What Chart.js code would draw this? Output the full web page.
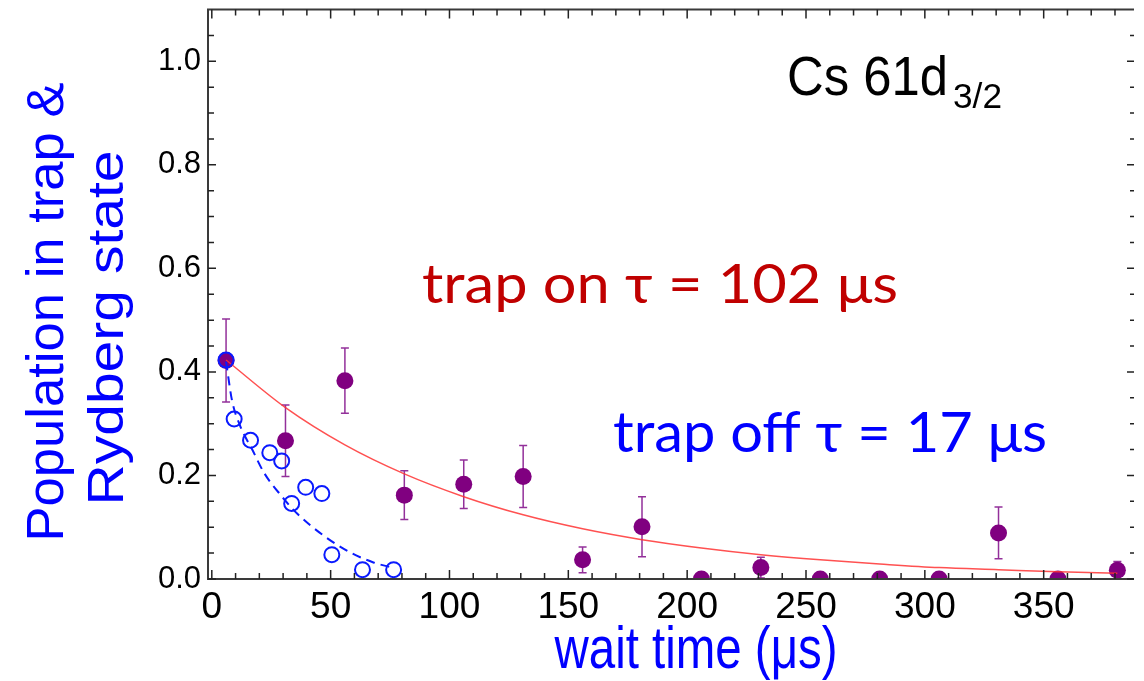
<!DOCTYPE html>
<html>
<head>
<meta charset="utf-8">
<script src="https://cdn.jsdelivr.net/npm/chart.js@4.4.1/dist/chart.umd.min.js"></script>
<style>
  html, body { margin: 0; padding: 0; background: #fff; }
  #wrap { width: 1144px; height: 681px; }
</style>
</head>
<body>
<div id="wrap"><canvas id="chart1"></canvas></div>
<script>
// trap on: filled purple points with error bars (wait time in us)
const trapOnTime = [6, 31, 56, 81, 106, 131, 156, 181, 206, 231, 256, 281, 306, 331, 356, 381];
const trapOnPop  = [0.422, 0.267, 0.383, 0.162, 0.183, 0.198, 0.037, 0.101, 0.0, 0.022, 0.0, 0.0, 0.0, 0.089, 0.0, 0.017];
const trapOnErr  = [0.080, 0.069, 0.063, 0.047, 0.047, 0.060, 0.025, 0.058, 0.0, 0.020, 0.0, 0.0, 0.0, 0.050, 0.0, 0.017];

// trap off: open blue circles
const trapOffTime = [6, 9.4, 16.3, 24.4, 29.4, 33.6, 39.5, 46.3, 50.5, 63.4, 76.5];
const trapOffPop  = [0.423, 0.309, 0.268, 0.244, 0.228, 0.146, 0.177, 0.165, 0.047, 0.018, 0.018];

// fit curves
const fitOnTime = [6, 31, 56, 81, 106, 131, 156, 181, 206, 231, 256, 281, 306, 331, 356, 381];
const fitOnPop  = [0.423, 0.331, 0.259, 0.203, 0.159, 0.124, 0.097, 0.076, 0.060, 0.047, 0.037, 0.029, 0.022, 0.018, 0.014, 0.011];
const fitOffTime = [6, 8.5, 12, 17, 22, 29, 36, 47, 58, 68, 77];
const fitOffPop  = [0.42, 0.345, 0.295, 0.25, 0.205, 0.162, 0.126, 0.084, 0.052, 0.032, 0.021];

// ticks
const xTickLabels = [0, 50, 100, 150, 200, 250, 300, 350];
const xMinorTicks = [10, 20, 30, 40, 60, 70, 80, 90, 110, 120, 130, 140, 160, 170, 180, 190, 210, 220, 230, 240,
                     260, 270, 280, 290, 310, 320, 330, 340, 360, 370, 380];
const yTickLabels = [0.0, 0.2, 0.4, 0.6, 0.8, 1.0];
const yMinorTicks = [0.05, 0.1, 0.15, 0.25, 0.3, 0.35, 0.45, 0.5, 0.55, 0.65, 0.7, 0.75, 0.85, 0.9, 0.95, 1.05];

const sans = "'Liberation Sans', Arial, sans-serif";
const calibriLike = "Lato, 'Open Sans', sans-serif";

const pts = (xs, ys) => xs.map((x, i) => ({ x: x, y: ys[i] }));

// draws text squeezed to a given width
function fitText(ctx, str, x, y, width, font, color, align, rotate) {
  ctx.save();
  ctx.font = font;
  const w = ctx.measureText(str).width;
  ctx.translate(x, y);
  if (rotate) ctx.rotate(-Math.PI / 2);
  ctx.scale(width / w, 1);
  ctx.fillStyle = color;
  ctx.textAlign = align || 'left';
  ctx.textBaseline = 'alphabetic';
  ctx.fillText(str, 0, 0);
  ctx.restore();
}

const errorBars = {
  id: 'errorBars',
  beforeDatasetsDraw(chart) {
    const ctx = chart.ctx, xs = chart.scales.x, ys = chart.scales.y;
    ctx.save();
    ctx.strokeStyle = '#93309a';
    ctx.lineWidth = 1.5;
    trapOnTime.forEach((t, i) => {
      if (!trapOnErr[i]) return;
      const x = xs.getPixelForValue(t);
      const y1 = ys.getPixelForValue(trapOnPop[i] + trapOnErr[i]);
      const y2 = ys.getPixelForValue(trapOnPop[i] - trapOnErr[i]);
      ctx.beginPath();
      ctx.moveTo(x, y1); ctx.lineTo(x, y2);
      ctx.moveTo(x - 4, y1); ctx.lineTo(x + 4, y1);
      ctx.moveTo(x - 4, y2); ctx.lineTo(x + 4, y2);
      ctx.stroke();
    });
    ctx.restore();
  }
};

const frame = {
  id: 'frame',
  afterDraw(chart) {
    const ctx = chart.ctx, a = chart.chartArea, xs = chart.scales.x, ys = chart.scales.y;
    ctx.save();
    ctx.strokeStyle = '#3a3a3a';
    ctx.lineWidth = 2;
    ctx.beginPath();
    ctx.moveTo(a.right, a.top); ctx.lineTo(a.left, a.top);
    ctx.lineTo(a.left, a.bottom); ctx.lineTo(a.right, a.bottom);
    ctx.stroke();

    ctx.lineWidth = 1.5;
    ctx.strokeStyle = '#222';
    ctx.beginPath();
    const xt = (v, len) => {
      const x = xs.getPixelForValue(v);
      ctx.moveTo(x, a.bottom); ctx.lineTo(x, a.bottom - len);
      ctx.moveTo(x, a.top); ctx.lineTo(x, a.top + len);
    };
    const yt = (v, len, rlen) => {
      const y = ys.getPixelForValue(v);
      ctx.moveTo(a.left, y); ctx.lineTo(a.left + len, y);
      ctx.moveTo(a.right, y); ctx.lineTo(a.right - rlen, y);
    };
    xTickLabels.forEach(v => xt(v, 9));
    xMinorTicks.forEach(v => xt(v, 6));
    yTickLabels.forEach(v => yt(v, 8, 7));
    yMinorTicks.forEach(v => yt(v, 6, 4));
    ctx.stroke();
    ctx.restore();

    // labels and notes
    fitText(ctx, 'Population in trap &', 63, 312, 459, '52px ' + sans, '#0000ff', 'center', true);
    fitText(ctx, 'Rydberg state', 123, 328, 355, '50px ' + sans, '#0000ff', 'center', true);
    fitText(ctx, 'wait time (\u03bcs)', 696, 668, 283, '60px ' + sans, '#0000ff', 'center');
    fitText(ctx, 'Cs 61d', 787, 95, 161, '56px ' + sans, '#000', 'left');
    fitText(ctx, '3/2', 953, 108, 49, '35px ' + sans, '#000', 'left');
    fitText(ctx, 'trap on \u03c4 = 102 \u03bcs', 422, 303, 476, '54px ' + calibriLike, '#c00000', 'left');
    fitText(ctx, 'trap off \u03c4 = 17 \u03bcs', 613, 452, 434, '56px ' + calibriLike, '#0000ff', 'left');
  }
};

const ctx = document.getElementById('chart1');
new Chart(ctx, {
  type: 'scatter',
  data: {
    datasets: [{
      data: pts(trapOnTime, trapOnPop),
      backgroundColor: '#800080',
      borderColor: '#800080',
      borderWidth: 0,
      pointRadius: 8.5,
      order: 4
    }, {
      data: pts(fitOnTime, fitOnPop),
      showLine: true,
      borderColor: 'rgba(255, 50, 50, 0.85)',
      borderWidth: 1.5,
      pointRadius: 0,
      tension: 0.4,
      cubicInterpolationMode: 'monotone',
      order: 3
    }, {
      data: pts(trapOffTime, trapOffPop),
      backgroundColor: 'rgba(0,0,0,0)',
      borderColor: '#0a1aff',
      borderWidth: 2,
      pointRadius: 7.5,
      order: 2
    }, {
      data: pts(fitOffTime, fitOffPop),
      showLine: true,
      borderColor: '#0a1aff',
      borderWidth: 2,
      borderDash: [9, 6],
      pointRadius: 0,
      tension: 0.4,
      cubicInterpolationMode: 'monotone',
      order: 1
    }]
  },
  options: {
    responsive: true,
    maintainAspectRatio: false,
    animation: false,
    layout: { padding: { top: 6, right: 10, left: 0, bottom: 0 } },
    plugins: {
      legend: { display: false },
      tooltip: { enabled: false }
    },
    scales: {
      x: {
        type: 'linear',
        min: -1.6,
        max: 388,
        afterBuildTicks: s => { s.ticks = xTickLabels.map(v => ({ value: v })); },
        afterFit: s => { s.height = 102; s.paddingLeft = 0; s.paddingRight = 0; },
        grid: { display: false, drawTicks: false },
        border: { display: false },
        ticks: {
          color: '#000',
          font: { family: sans, size: 37 },
          padding: 7,
          maxRotation: 0,
          autoSkip: false,
          callback: v => String(v)
        }
      },
      y: {
        min: 0,
        max: 1.1,
        afterBuildTicks: s => { s.ticks = yTickLabels.map(v => ({ value: v })); },
        afterFit: s => { s.width = 208; s.paddingTop = 0; s.paddingBottom = 0; },
        grid: { display: false, drawTicks: false },
        border: { display: false },
        ticks: {
          color: '#000',
          font: { family: sans, size: 31 },
          padding: 7,
          callback: v => v.toFixed(1)
        }
      }
    }
  },
  plugins: [errorBars, frame]
});
</script>
</body>
</html>
